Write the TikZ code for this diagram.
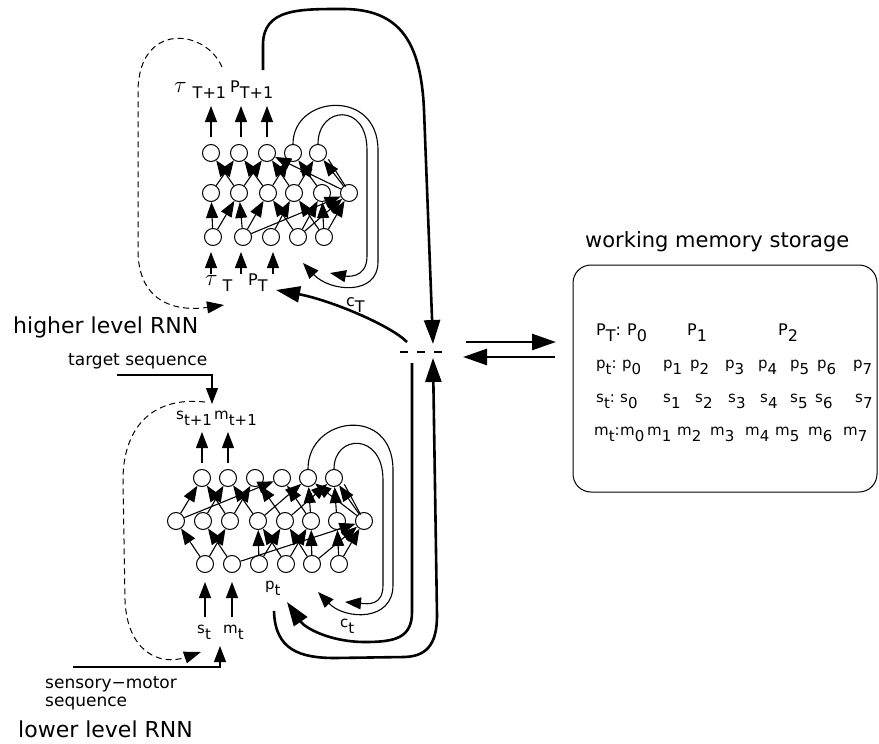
\documentclass[tikz,border=0pt]{standalone}
\usepackage{fontspec}
\setmainfont{DejaVu Sans}
\usetikzlibrary{arrows.meta}
\newcommand{\lw}[2]{#1\raisebox{-0.4em}{#2}}
\tikzset{%
  neuron/.style   = {circle, draw, line width=1pt, minimum size=17pt,%
                     inner sep=0pt, fill=white},%
  link/.style     = {line width=1.1pt, -{Triangle[length=16pt,width=12pt]}},%
  bus/.style      = {line width=2.6pt, -{Triangle[length=24pt,width=16pt]}},%
  fb/.style       = {line width=1pt, dash pattern=on 6pt off 4pt,%
                     -{Triangle[length=17pt,width=12pt]}},%
  gate/.style     = {line width=2.6pt, dash pattern=on 8pt off 9pt},%
  store/.style    = {draw, line width=1pt, rounded corners=18pt,%
                     minimum width=304pt, minimum height=227pt},%
  lbl/.style      = {inner sep=0pt, anchor=base west, font=\fontsize{16}{18}\selectfont},%
  small/.style    = {inner sep=0pt, anchor=base west, font=\fontsize{15}{17}\selectfont},%
  row/.style      = {inner sep=0pt, anchor=base west, font=\fontsize{15}{17}\selectfont},%
  title/.style    = {inner sep=0pt, anchor=base west, font=\fontsize{22}{24}\selectfont},%
  note/.style     = {inner sep=0pt, anchor=base west, font=\fontsize{17}{19}\selectfont}%
}
\newcommand{\tauv}{\scalebox{1.35}{$\tau$}}
\begin{document}
\begin{tikzpicture}[x=1pt,y=-1pt]
\useasboundingbox (0,0) rectangle (879,744);
% higher level RNN
\foreach \x [count=\i] in {211,239,267,293,318} \node[neuron] (ht\i) at (\x,153) {};
\foreach \x [count=\i] in {211,239,268,294,322,349} \node[neuron] (hm\i) at (\x,193) {};
\foreach \x [count=\i] in {213,243,271,298,324} \node[neuron] (hb\i) at (\x,237) {};
\foreach \a/\b in {1/2,2/1,2/3,3/2,3/4,4/3,4/5,5/4,6/3,6/5}
  \draw[link] (hm\a) -- (ht\b);
\draw[line width=1.1pt] ([xshift=3pt]hm6.north west) -- ([xshift=4pt]ht5.south east);
\foreach \a/\b in {1/1,1/2,2/2,2/3,2/6,3/4,4/3,4/5,4/6,5/4,5/5,5/6}
  \draw[link] (hb\a) -- (hm\b);
\foreach \x [count=\i] in {211,241,267} {
  \coordinate (hoa\i) at (\x,137); \coordinate (hob\i) at (\x,106);
  \draw[link] (hoa\i) -- (hob\i);}
\foreach \x [count=\i] in {211,241,273} {
  \coordinate (hia\i) at (\x,274); \coordinate (hib\i) at (\x,252);
  \draw[link] (hia\i) -- (hib\i);}
\node[lbl] (tauout) at (174,92) {\tauv\hspace{6pt}\lw{}{T+1}};
\node[lbl] (Pout) at (230,92) {\lw{P}{T+1}};
\node[lbl] (tauin) at (205,285) {\tauv\hspace{5pt}\lw{}{T}};
\node[lbl] (Pin) at (248,285) {\lw{P}{T}};
% context loops of the higher level
\coordinate (hca) at (303,263);
\coordinate (hcb) at (330,273);
\draw[link] (ht4.north) .. controls (293,95) and (378,88) .. (378,150) -- (378,262)
  .. controls (378,296) and (330,292) .. (hca);
\draw[link] (ht5.north) .. controls (318,106) and (367,102) .. (367,150) -- (367,256)
  .. controls (367,280) and (345,276) .. (hcb);
\coordinate (hfa) at (222,67);
\coordinate (hfb) at (224,305);
\draw[fb] (hfa) .. controls (205,28) and (138,22) .. (138,92) -- (138,250)
  .. controls (138,302) and (175,312) .. (hfb);
\node[title] (hlabel) at (13,333) {higher level RNN};

% lower level RNN
\foreach \x [count=\i] in {202,228,255,282,308,334} \node[neuron] (lt\i) at (\x,478) {};
\foreach \x [count=\i] in {176,203,230,258,285,311,337,364} \node[neuron] (lm\i) at (\x,521) {};
\foreach \x [count=\i] in {205,232,259,286,312,339} \node[neuron] (lb\i) at (\x,564) {};
\foreach \a/\b in {1/1,1/4,3/1,2/2,3/3,4/2,4/5,5/3,5/6,6/4,6/5,7/6,8/5,8/6}
  \draw[link] (lm\a) -- (lt\b);
\draw[line width=1.1pt] ([xshift=3pt]lm8.north west) -- ([xshift=4pt]lt6.south east);
\foreach \a/\b in {1/1,1/3,2/2,2/8,3/4,3/5,4/4,4/6,5/5,5/6,5/8,6/7,6/8}
  \draw[link] (lb\a) -- (lm\b);
\foreach \x [count=\i] in {202,228} {
  \coordinate (loa\i) at (\x,463); \coordinate (lob\i) at (\x,432);
  \draw[link] (loa\i) -- (lob\i);}
\foreach \x [count=\i] in {205,232} {
  \coordinate (lia\i) at (\x,617); \coordinate (lib\i) at (\x,582);
  \draw[link] (lia\i) -- (lib\i);}
\node[small] (sout) at (176,419) {\lw{s}{t+1}};
\node[small] (mout) at (214,419) {\lw{m}{t+1}};
\node[small] (sin) at (197,633) {\lw{s}{t}};
\node[small] (min) at (223,633) {\lw{m}{t}};
\node[small] (plbl) at (265,589) {\lw{p}{t}};
% context loops of the lower level
\coordinate (lca) at (318,592);
\coordinate (lcb) at (345,602);
\draw[link] (lt5.north) .. controls (308,416) and (393,405) .. (393,470) -- (393,585)
  .. controls (393,622) and (345,620) .. (lca);
\draw[link] (lt6.north) .. controls (334,434) and (383,432) .. (383,480) -- (383,585)
  .. controls (383,606) and (368,604) .. (lcb);
\coordinate (lfa) at (205,402);
\coordinate (lfb) at (201,652);
\draw[fb] (lfa) .. controls (150,396) and (123,430) .. (123,480) -- (125,600)
  .. controls (127,652) and (160,666) .. (lfb);
% external sequences
\coordinate (tga) at (117,375);
\coordinate (tgb) at (212,404);
\draw[link] (tga) -- (212,375) -- (tgb);
\node[note] (tglabel) at (68,365) {target sequence};
\coordinate (sma) at (73,667);
\coordinate (smb) at (220,646);
\draw[link] (sma) -- (220,667) -- (smb);
\node[note] (smlabel) at (45,688) {sensory−motor};
\node[note] (smlabel2) at (45,706) {sequence};
\node[title] (llabel) at (18,737) {lower level RNN};

% switch between the levels
\draw[gate] (400,352) -- (447,352);
\coordinate (hup) at (263,70);
\coordinate (swin) at (433,344);
\draw[bus] (hup) -- (263,45) .. controls (263,8) and (300,9) .. (345,9)
  .. controls (400,10) and (421,42) .. (424,110) -- (swin);
\coordinate (swl) at (407,342);
\coordinate (cTend) at (276,290);
\draw[bus] (swl) .. controls (390,325) and (330,300) .. (cTend);
\node[lbl] (cT) at (346,306) {\lw{c}{T}};
\coordinate (ptst) at (274,611);
\coordinate (swup) at (433,358);
\draw[bus] (ptst) .. controls (275,650) and (300,658) .. (335,658) -- (405,657)
  .. controls (430,656) and (437,640) .. (437,615) -- (swup);
\coordinate (swdn) at (412,363);
\coordinate (ctend) at (287,602);
\draw[bus] (swdn) -- (412,612) .. controls (412,638) and (395,642) .. (365,642)
  .. controls (330,642) and (305,628) .. (ctend);
\node[small] (ct) at (340,627) {\lw{c}{t}};

% working memory storage
\coordinate (wma) at (466,342);
\coordinate (wmb) at (556,342);
\coordinate (wmc) at (555,357);
\coordinate (wmd) at (463,357);
\draw[bus] (wma) -- (wmb);
\draw[bus] (wmc) -- (wmd);
\node[title, font=\fontsize{21}{23}\selectfont] (wmlabel) at (585,247) {working memory storage};
\node[store] (store) at (725,378.5) {};
\node[lbl] (PT) at (596,335) {\lw{P}{T}:};
\foreach \x/\k in {627/0,687/1,778/2} \node[lbl] (P\k) at (\x,335) {\lw{P}{\k}};
\node[row] (pt) at (596,368) {\lw{p}{t}:};
\foreach \x [count=\k from 0] in {622,663,690,725,758,790,817,853}
  \node[row] (p\k) at (\x,368) {\lw{p}{\k}};
\node[row] (st) at (596,402) {\lw{s}{t}:};
\foreach \x [count=\k from 0] in {620,663,695,728,760,790,815,855}
  \node[row] (s\k) at (\x,402) {\lw{s}{\k}};
\node[row] (mt) at (594,435) {\lw{m}{t}:};
\foreach \x [count=\k from 0] in {620,647,677,710,745,775,808,843}
  \node[row] (m\k) at (\x,435) {\lw{m}{\k}};
\end{tikzpicture}
\end{document}
